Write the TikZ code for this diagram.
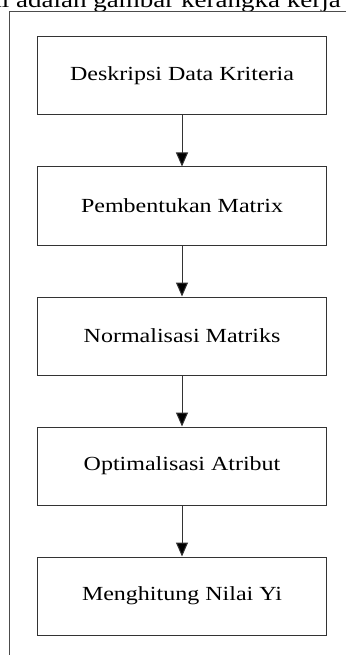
\documentclass[tikz,border=0pt]{standalone}
\usepackage{fontspec}
\setmainfont{Liberation Serif}
\usetikzlibrary{arrows.meta}
\tikzset{
  stepbox/.style={draw=black!80, line width=1pt, minimum width=289pt, minimum height=78pt, inner sep=0pt, font=\fontsize{20}{23}\selectfont},
  flowarrow/.style={draw=black!80, line width=1pt, -{Triangle[length=14pt,width=12pt,fill=black]}},
  framel/.style={draw=black!70, line width=1pt}
}
\newcommand{\wtxt}[1]{\scalebox{1.2}[1]{#1}}
\begin{document}
\begin{tikzpicture}[x=1pt,y=-1pt]
\useasboundingbox (0,0) rectangle (346,655);
\node[anchor=base east, inner sep=0pt, font=\fontsize{22.5}{25}\selectfont] (intro) at (341,8) {\wtxt{ini adalah gambar kerangka kerja}};
\coordinate (ftr) at (346,12);
\coordinate (ftl) at (9,12);
\coordinate (fbl) at (9,656);
\draw[framel] (ftr) -- (ftl) -- (fbl);
\node[stepbox] (b1) at (182,76) {\wtxt{Deskripsi Data Kriteria}};
\node[stepbox] (b2) at (182,206) {\wtxt{Pembentukan Matrix}};
\node[stepbox] (b3) at (182,336) {\wtxt{Normalisasi Matriks}};
\node[stepbox] (b4) at (182,466) {\wtxt{Optimalisasi Atribut}};
\node[stepbox] (b5) at (182,596) {\wtxt{Menghitung Nilai Yi}};
\draw[flowarrow] (b1) -- (b2);
\draw[flowarrow] (b2) -- (b3);
\draw[flowarrow] (b3) -- (b4);
\draw[flowarrow] (b4) -- (b5);
\end{tikzpicture}
\end{document}
